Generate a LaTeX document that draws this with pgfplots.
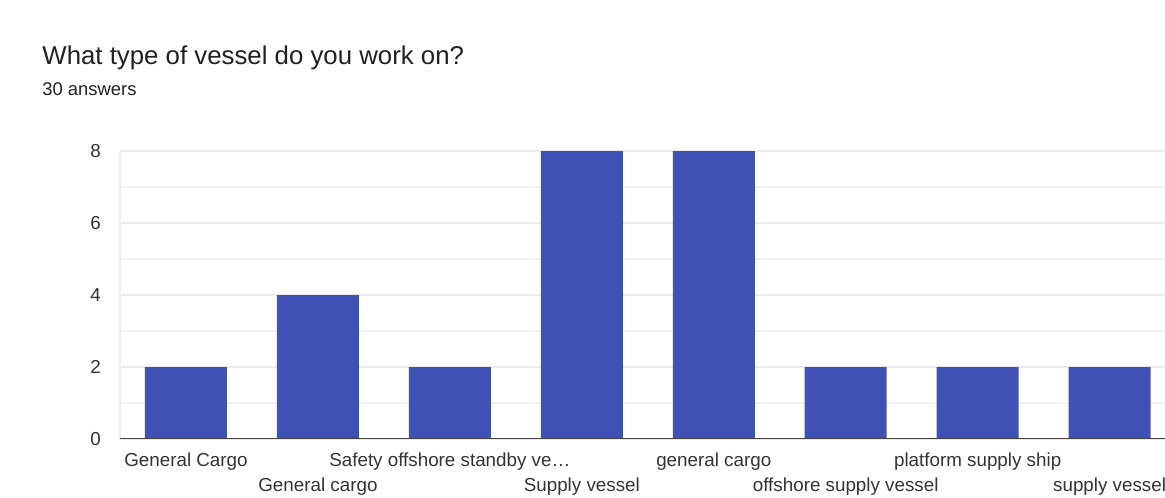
\documentclass[border=0pt]{standalone}
\usepackage{fontspec}
\setmainfont{Liberation Sans}
\usepackage{pgfplots}
\pgfplotsset{compat=1.18}
\definecolor{barblue}{RGB}{63,81,181}
\definecolor{txt}{RGB}{33,33,33}
\definecolor{lbl}{RGB}{51,51,51}
\begin{document}
\begin{tikzpicture}
\path[use as bounding box] (0,0) rectangle (582.5pt,248.5pt);
\node[anchor=base west, text=txt, inner sep=0pt, font=\fontsize{12.9}{15}\selectfont] at (21pt,216pt) {What type of vessel do you work on?};
\node[anchor=base west, text=txt, inner sep=0pt, font=\fontsize{9.2}{11}\selectfont] at (21pt,200.5pt) {30 answers};
\begin{axis}[
  at={(60pt,29pt)}, anchor=south west,
  scale only axis, width=522.5pt, height=144pt,
  xmin=-0.5, xmax=7.42, ymin=0, ymax=8,
  ybar, bar width=41pt,
  axis lines*=left,
  x axis line style={draw=none},
  y axis line style={color=black!8, line width=0.6pt},
  ytick={0,2,4,6,8},
  minor ytick={1,3,5,7},
  ymajorgrids, yminorgrids,
  major grid style={color=black!8, line width=0.6pt},
  minor grid style={color=black!5, line width=0.6pt},
  tick style={draw=none},
  /pgf/number format/assume math mode=true,
  yticklabel style={font=\fontsize{9.4}{11}\selectfont, text=lbl, xshift=-6pt},
  xtick={0,2,4,6},
  xticklabels={General Cargo, Safety offshore standby ve\dots, general cargo, platform supply ship},
  xticklabel style={font=\fontsize{9.4}{11}\selectfont, text=lbl, anchor=base, yshift=-9.5pt, inner sep=0pt},
  extra x ticks={1,3,5,7},
  extra x tick labels={General cargo, Supply vessel, offshore supply vessel, supply vessel},
  extra x tick style={grid=none, tick style={draw=none}, xticklabel style={yshift=-12.5pt}},
]
\addplot[fill=barblue, draw=none] coordinates {(0,2) (1,4) (2,2) (3,8) (4,8) (5,2) (6,2) (7,2)};
\draw[color=black!75, line width=0.9pt] (rel axis cs:0,0) -- (rel axis cs:1,0);
\end{axis}
\end{tikzpicture}
\end{document}
